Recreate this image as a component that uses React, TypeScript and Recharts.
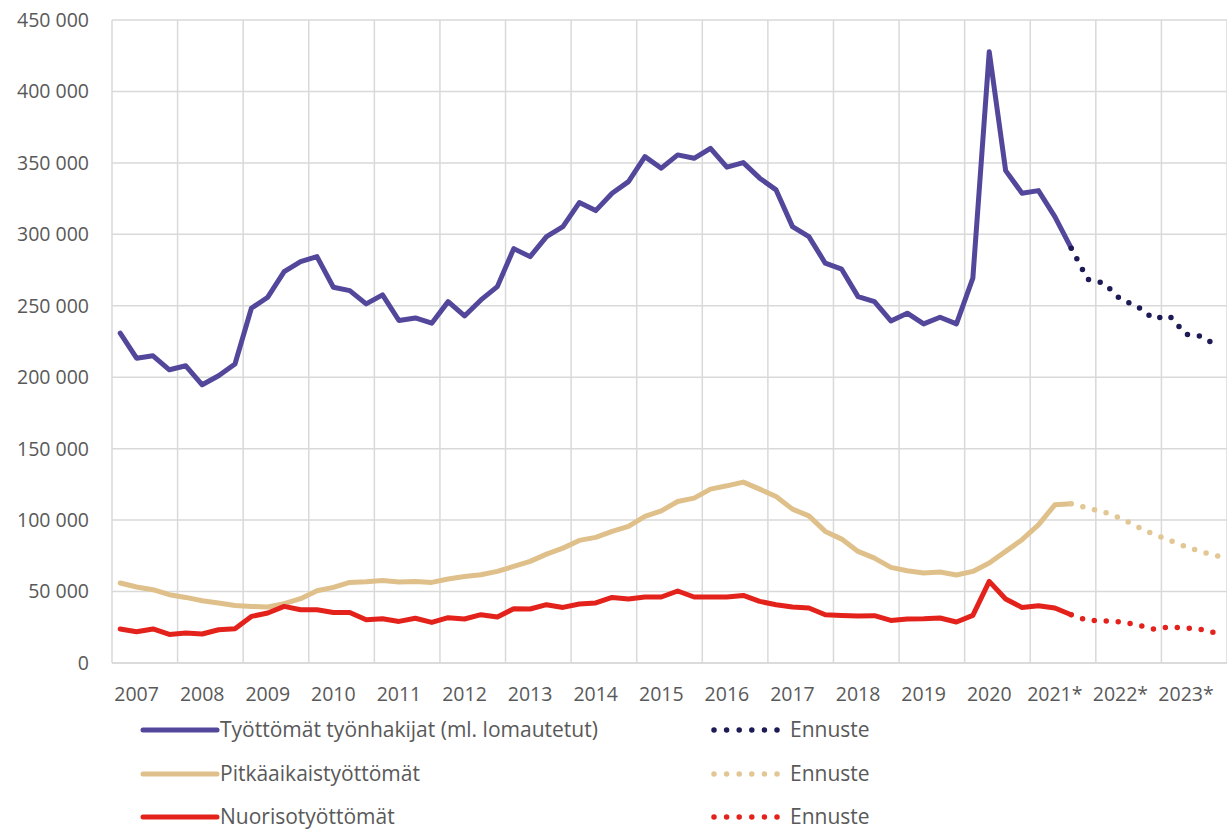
import React from "react";
import { LineChart, Line, XAxis, YAxis, CartesianGrid, ReferenceLine, Legend } from "recharts";

const yearLabels = ["2007","2008","2009","2010","2011","2012","2013","2014","2015","2016","2017","2018","2019","2020","2021*","2022*","2023*"];

// Quarterly values 2007 Q1 .. 2021 Q3 (actual)
const tyottomat = [
  230800, 213300, 215000, 205200, 208000, 194700, 201000, 209200,
  248300, 256000, 273900, 280900, 284400, 263000, 260600, 251300,
  257600, 239700, 241500, 237800, 252900, 242900, 254100, 263400,
  290000, 284400, 298400, 305400, 322200, 316600, 328800, 336900,
  354400, 346300, 355600, 353200, 360200, 347000, 350200, 339300,
  331100, 305400, 298400, 279800, 275600, 256400, 252900, 239400,
  244800, 237300, 242000, 237300, 269300, 427800, 344600, 328800,
  330600, 312400, 290300,
];
// Forecast 2021 Q3 .. 2023 Q4
const tyottomatEnnuste = [290300, 268600, 265800, 254600, 249900, 241000, 242900, 230100, 228500, 221000];

const pitkaaikais = [
  56000, 53200, 51300, 47800, 45900, 43600, 42000, 40300,
  39600, 39200, 41500, 45000, 50600, 52900, 56400, 56900,
  57800, 56700, 57100, 56400, 58800, 60600, 61800, 64100,
  67600, 71100, 76200, 80400, 85800, 87900, 92100, 95600,
  102600, 106500, 113000, 115400, 121700, 124000, 126600, 121700,
  116500, 107700, 103000, 92100, 86700, 78100, 73400, 66900,
  64600, 63000, 63700, 61600, 64100, 70000, 78100, 86300,
  96700, 110700, 111400,
];
const pitkaaikaisEnnuste = [111400, 108400, 105600, 101400, 95600, 90200, 85800, 81400, 77600, 74600];

const nuoriso = [
  23800, 21900, 23800, 20000, 21000, 20300, 23300, 24000,
  32600, 35000, 39600, 37300, 37300, 35400, 35400, 30300,
  31000, 29100, 31300, 28400, 31700, 30800, 33800, 32200,
  38000, 37800, 40800, 38900, 41300, 42000, 45900, 44800,
  46200, 46200, 50400, 46200, 46200, 46200, 47300, 43100,
  40800, 39200, 38500, 33800, 33300, 32900, 33100, 29800,
  30800, 31000, 31500, 28700, 33300, 57100, 44800, 38900,
  40100, 38500, 33800,
];
const nuorisoEnnuste = [33800, 29800, 29600, 28700, 26800, 23800, 25200, 24500, 23300, 20500];

const yTicks = [0, 50000, 100000, 150000, 200000, 250000, 300000, 350000, 400000, 450000];

const PURPLE = "#52479a";
const NAVY = "#1d1b55";
const TAN = "#dfc08b";
const TAN_F = "#e2c693";
const RED = "#e4221c";
const TEXT = "#595959";
const GRID = "#d9d9d9";
const FONT = "'Open Sans', Lato, sans-serif";

const series = [
  { key: "tyo", name: "Työttömät työnhakijat (ml. lomautetut)", color: PURPLE, fcolor: NAVY },
  { key: "pit", name: "Pitkäaikaistyöttömät", color: TAN, fcolor: TAN_F },
  { key: "nuo", name: "Nuorisotyöttömät", color: RED, fcolor: RED },
];

const ACTUAL_LAST = tyottomat.length - 1; // 58
const N = ACTUAL_LAST + tyottomatEnnuste.length; // 68

const data = Array.from({ length: N }, (_, i) => ({
  i,
  tyo: i <= ACTUAL_LAST ? tyottomat[i] : null,
  pit: i <= ACTUAL_LAST ? pitkaaikais[i] : null,
  nuo: i <= ACTUAL_LAST ? nuoriso[i] : null,
  tyoF: i >= ACTUAL_LAST ? tyottomatEnnuste[i - ACTUAL_LAST] : null,
  pitF: i >= ACTUAL_LAST ? pitkaaikaisEnnuste[i - ACTUAL_LAST] : null,
  nuoF: i >= ACTUAL_LAST ? nuorisoEnnuste[i - ACTUAL_LAST] : null,
}));

const labelTicks = yearLabels.map((_, k) => k * 4 + 1);
const yearBoundaries = Array.from({ length: yearLabels.length + 1 }, (_, k) => k * 4 - 0.5);

const fmt = (v: number) => (v === 0 ? "0" : `${Math.floor(v / 1000)} ${String(v % 1000).padStart(3, "0")}`);

const LegendContent = () => (
  <div style={{ position: "relative", width: 1227, height: 130, fontFamily: FONT, fontSize: 21, color: TEXT }}>
    {series.map((s, r) => {
      const cy = 29 + r * 43.5;
      return (
        <React.Fragment key={s.key}>
          <svg style={{ position: "absolute", left: 138, top: cy - 6 + 1 }} width={84} height={12}>
            <line x1={5} y1={6} x2={79} y2={6} stroke={s.color} strokeWidth={5} strokeLinecap="round" />
          </svg>
          <span style={{ position: "absolute", left: 220, top: cy - 14, lineHeight: "28px", whiteSpace: "nowrap" }}>{s.name}</span>
          <svg style={{ position: "absolute", left: 708, top: cy - 6 + 1 }} width={76} height={12}>
            <line x1={6} y1={6} x2={70} y2={6} stroke={s.fcolor} strokeWidth={5.5} strokeLinecap="round" strokeDasharray="0 12.6" />
          </svg>
          <span style={{ position: "absolute", left: 790, top: cy - 14, lineHeight: "28px", whiteSpace: "nowrap" }}>Ennuste</span>
        </React.Fragment>
      );
    })}
  </div>
);

export default function App() {
  return (
    <div style={{ position: "absolute", left: 0, top: 0, width: 1227, height: 829, background: "#fff" }}>
      <LineChart width={1227} height={829} data={data} margin={{ top: 20, right: 0, bottom: 136, left: 0 }}>
        <CartesianGrid horizontal vertical={false} stroke={GRID} strokeWidth={1.5} />
        {yearBoundaries.map((b) => (
          <ReferenceLine key={b} x={b} stroke={GRID} strokeWidth={1.5} ifOverflow="visible" />
        ))}
        <XAxis
          dataKey="i"
          type="number"
          domain={[-0.5, N - 0.5]}
          ticks={labelTicks}
          tickFormatter={(v: number) => yearLabels[(v - 1) / 4]}
          interval={0}
          height={30}
          axisLine={{ stroke: GRID, strokeWidth: 1.5 }}
          tickLine={false}
          tickSize={0}
          tickMargin={24}
          tick={{ fill: TEXT, fontSize: 19.5, fontFamily: FONT }}
          allowDecimals
        />
        <YAxis
          domain={[0, 450000]}
          ticks={yTicks}
          tickFormatter={fmt}
          width={112}
          axisLine={false}
          tickLine={false}
          tickSize={0}
          tickMargin={23}
          interval={0}
          tick={{ fill: TEXT, fontSize: 19.5, fontFamily: FONT }}
        />
        <Legend
          verticalAlign="middle"
          align="center"
          layout="horizontal"
          content={<LegendContent />}
          wrapperStyle={{ left: 0, top: 700, width: 1227, height: 130 }}
        />
        {series.map((s) => (
          <Line
            key={s.key}
            dataKey={s.key}
            name={s.name}
            type="linear"
            stroke={s.color}
            strokeWidth={5}
            strokeLinecap="round"
            strokeLinejoin="round"
            dot={false}
            activeDot={false}
            connectNulls={false}
            isAnimationActive={false}
          />
        ))}
        {series.map((s) => (
          <Line
            key={s.key + "F"}
            dataKey={s.key + "F"}
            name="Ennuste"
            type="linear"
            stroke={s.fcolor}
            strokeWidth={5.5}
            strokeLinecap="round"
            strokeDasharray="0 12"
            dot={false}
            activeDot={false}
            connectNulls={false}
            isAnimationActive={false}
          />
        ))}
      </LineChart>
    </div>
  );
}
